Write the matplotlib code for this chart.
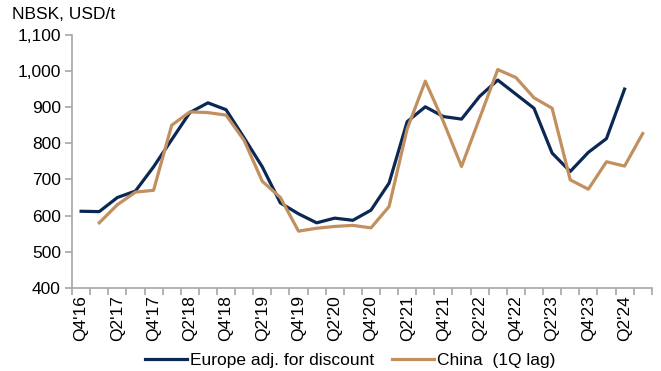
import numpy as np
import matplotlib.pyplot as plt
from matplotlib.ticker import FixedLocator

plt.rcParams['font.family'] = ['Liberation Sans', 'DejaVu Sans']

# quarters Q4'16 .. Q3'24
quarters = []
for y in range(16, 25):
    for q in range(1, 5):
        if (y == 16 and q < 4) or (y == 24 and q > 3):
            continue
        quarters.append("Q%d'%d" % (q, y))

europe = [612, 611, 650, 668, 735, 810, 885, 912, 893, 815, 735, 635, 605,
          580, 593, 587, 615, 690, 860, 901, 874, 867, 930, 975, 936, 897,
          773, 722, 775, 813, 950]
china = [580, 630, 665, 670, 850, 887, 885, 878, 808, 695, 650, 557, 565,
         570, 573, 566, 625, 840, 972, 860, 736, 870, 1004, 982, 926, 897,
         699, 673, 749, 737, 827]

navy = '#0b2753'
tan = '#c2905f'
grey = '#a6a6a6'
fs = 12.5

fig = plt.figure(figsize=(6.61, 3.71), dpi=100)
ax = fig.add_axes([0.109, 0.224, 0.877, 0.682])

x = np.arange(len(quarters))
ax.plot(x[:len(europe)], europe, color=navy, lw=2.3, label='Europe adj. for discount')
ax.plot(x[1:1 + len(china)], china, color=tan, lw=2.3, label='China  (1Q lag)')

ax.set_xlim(-0.5, len(quarters) - 0.5)
ax.set_ylim(400, 1100)
ax.set_yticks(range(400, 1101, 100))
ax.set_yticklabels([f'{v:,}' for v in range(400, 1101, 100)], fontsize=fs)

ax.set_xticks(x[::2])
ax.set_xticklabels(quarters[::2], rotation=90, fontsize=fs)
ax.xaxis.set_minor_locator(FixedLocator(np.arange(-0.5, len(quarters), 1)))
ax.tick_params(axis='x', which='major', length=0, pad=5)
ax.tick_params(axis='x', which='minor', length=5, color=grey, width=1.2)
ax.tick_params(axis='y', length=5, color=grey, width=1.2, pad=3)

for s in ['top', 'right']:
    ax.spines[s].set_visible(False)
for s in ['left', 'bottom']:
    ax.spines[s].set_color(grey)
    ax.spines[s].set_linewidth(1.2)

fig.text(0.018, 0.962, 'NBSK, USD/t', fontsize=fs, va='center', ha='left')

fig.legend(loc='center', bbox_to_anchor=(0.53, 0.028), ncol=2, frameon=False,
           fontsize=fs, handlelength=2.4, handletextpad=0.2, columnspacing=1.0,
           borderaxespad=0)

fig.savefig('out.png', dpi=100)
